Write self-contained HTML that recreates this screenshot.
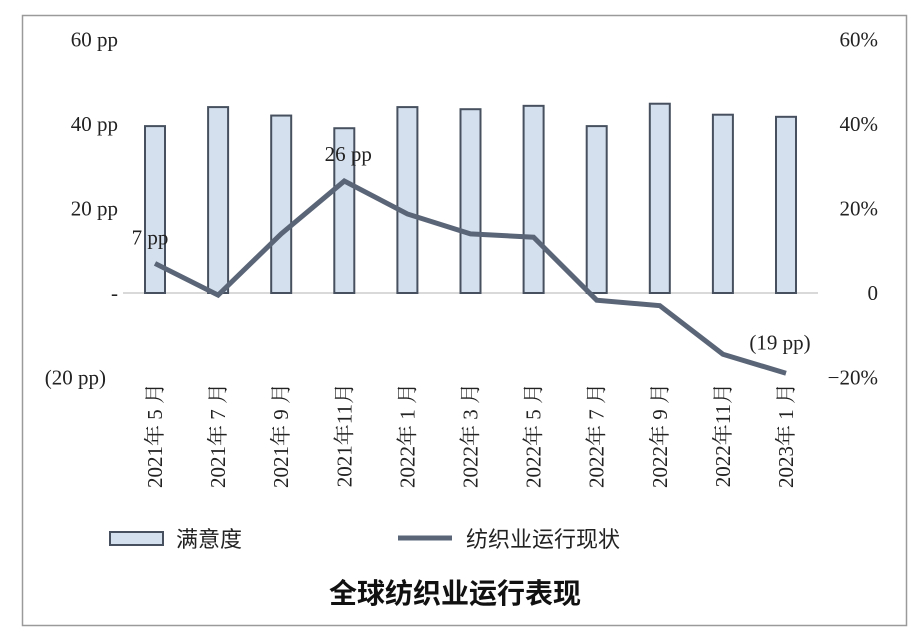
<!DOCTYPE html>
<html><head><meta charset="utf-8"><style>
body{margin:0;background:#fff;}
svg{display:block;font-family:"Liberation Serif","Noto Serif CJK SC",serif;}
</style></head><body>
<svg width="916" height="638" xmlns="http://www.w3.org/2000/svg">
<rect x="22.5" y="15.5" width="884" height="610" fill="#fff" stroke="#9a9a9a" stroke-width="1.5"/>
<g id="g"></g>
<g>
<rect x="110" y="532" width="53" height="13" fill="#d5e0ee" stroke="#46505e" stroke-width="2"/>
<text x="176" y="547" font-size="22" font-family="'Liberation Sans','Noto Sans CJK SC',sans-serif" fill="#222">满意度</text>
<line x1="398" y1="538" x2="452" y2="538" stroke="#5a6577" stroke-width="5"/>
<text x="466" y="547" font-size="22" font-family="'Liberation Sans','Noto Sans CJK SC',sans-serif" fill="#222">纺织业运行现状</text>
</g>
<text x="455" y="603" text-anchor="middle" font-size="28" font-weight="bold" font-family="'Liberation Sans','Noto Sans CJK SC',sans-serif" fill="#111">全球纺织业运行表现</text>
</svg>
<script>
const categories=["2021年 5 月","2021年 7 月","2021年 9 月","2021年11月","2022年 1 月","2022年 3 月","2022年 5 月","2022年 7 月","2022年 9 月","2022年11月","2023年 1 月"];
const satisfaction=[39.5,44,42,39,44,43.5,44.3,39.5,44.8,42.2,41.7];
const status=[7,-0.5,14,26.5,18.7,14,13.2,-1.7,-3,-14.5,-19];
const leftTicks=[60,40,20,0,-20];
const leftTickLabels=["60 pp","40 pp","20 pp","-","(20 pp)"];
const rightTickLabels=["60%","40%","20%","0","−20%"];
const pointLabels=[{i:0,t:"7 pp",dx:-5,dy:-19},{i:3,t:"26 pp",dx:4,dy:-20},{i:10,t:"(19 pp)",dx:-6,dy:-24}];
const ns="http://www.w3.org/2000/svg";
const g=document.getElementById('g');
const y=v=>293-v*84.5/20;
const x=i=>155+i*63.1;
function mk(t,a){const e=document.createElementNS(ns,t);for(const k in a)e.setAttribute(k,a[k]);g.appendChild(e);return e;}
const zl=mk('line',{x1:123,x2:818,y1:y(0),y2:y(0),stroke:'#d9d9d9','stroke-width':2});


leftTicks.forEach((v,k)=>{
 const t=mk('text',{x:k===4?106:118,y:y(v)+7,'text-anchor':'end','font-size':21,fill:'#222'});t.textContent=leftTickLabels[k];
 
 
 const r=mk('text',{x:k===4?878:878,y:y(v)+7,'text-anchor':'end','font-size':21,fill:'#222'});r.textContent=rightTickLabels[k];
 
 
});
satisfaction.forEach((v,i)=>{
 const b=mk('rect',{x:x(i)-10,y:y(v),width:20,height:y(0)-y(v),fill:'#d5e0ee',stroke:'#46505e','stroke-width':2});
 
 
});
const p=mk('polyline',{points:status.map((v,i)=>x(i)+','+y(v)).join(' '),fill:'none',stroke:'#5a6577','stroke-width':5,'stroke-linejoin':'miter'});


pointLabels.forEach(l=>{
 const t=mk('text',{x:x(l.i)+l.dx,y:y(status[l.i])+l.dy,'text-anchor':'middle','font-size':21,fill:'#222'});t.textContent=l.t;
 
 
});
categories.forEach((c,i)=>{
 const t=mk('text',{transform:`translate(${x(i)+7},383) rotate(-90)`,'text-anchor':'end','font-size':21,fill:'#222'});t.textContent=c;
 
 
});
</script>
</body></html>
